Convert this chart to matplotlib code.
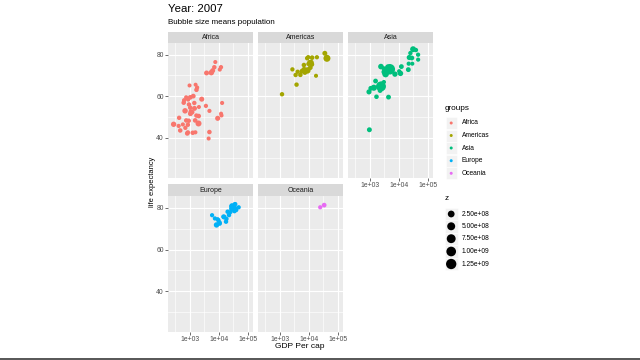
import numpy as np
import matplotlib
matplotlib.use("Agg")
import matplotlib.pyplot as plt
from matplotlib.patches import Rectangle

plt.rcParams['font.family'] = ['Liberation Sans', 'DejaVu Sans']

# ---- data: gapminder 2007 (gdpPercap, lifeExp, pop) ----
africa_gdp = [6223.367, 4797.231, 1441.285, 12569.85, 1217.033, 430.0707, 2042.095, 706.0165, 1704.064, 986.1479,
              277.5519, 3632.558, 1544.750, 2082.482, 5581.181, 12154.09, 641.3695, 690.8056, 13206.48, 752.7497,
              1327.609, 942.6542, 579.2317, 1463.249, 1569.331, 414.5073, 12057.50, 1044.770, 759.3499, 1042.582,
              1803.151, 10956.99, 3820.175, 823.6856, 4811.060, 619.6769, 2013.977, 7670.123, 863.0885, 1598.435,
              1712.472, 862.5408, 926.1411, 9269.658, 2602.395, 4513.481, 1107.482, 882.9699, 7092.923, 1056.380,
              1271.212, 469.7093]
africa_life = [72.301, 42.731, 56.728, 50.728, 52.295, 49.580, 50.430, 44.741, 50.651, 65.152,
               46.462, 55.322, 48.328, 54.791, 71.338, 51.579, 58.040, 52.947, 56.735, 59.448,
               60.022, 56.007, 46.388, 54.110, 42.592, 45.678, 73.952, 59.443, 48.303, 54.467,
               64.164, 72.801, 71.164, 42.082, 52.906, 56.867, 46.859, 76.442, 46.242, 65.528,
               63.062, 42.568, 48.159, 49.339, 58.556, 39.613, 52.517, 58.420, 73.923, 51.542,
               42.384, 43.487]
africa_pop = [33333216, 12420476, 8078314, 1639131, 14326203, 8390505, 17696293, 4369038, 10238807, 710960,
              64606759, 3800610, 18013409, 496374, 80264543, 551201, 4906585, 76511887, 1454867, 1688359,
              22873338, 9947814, 1472041, 35610177, 2012649, 3193942, 6036914, 19167654, 13327079, 12031795,
              3270065, 1250882, 33757175, 19951656, 2055080, 12894865, 135031164, 798094, 8860588, 199579,
              12267493, 6144562, 9118773, 43997828, 42292929, 1133066, 38139640, 5701579, 10276158, 29170398,
              11746035, 12311143]

americas_gdp = [12779.38, 3822.137, 9065.801, 36319.24, 13171.64, 7006.580, 9645.061, 8948.103, 6025.375, 6873.262,
                5728.354, 5186.050, 1201.637, 3548.331, 7320.880, 11977.57, 2749.321, 9809.186, 4172.838, 7408.906,
                19328.71, 18008.51, 42951.65, 10611.46, 11415.81]
americas_life = [75.320, 65.554, 72.390, 80.653, 78.553, 72.889, 78.782, 78.273, 72.235, 74.994,
                 71.878, 70.259, 60.916, 70.198, 72.567, 76.195, 72.899, 75.537, 71.752, 71.421,
                 78.746, 69.819, 78.242, 76.384, 73.747]
americas_pop = [40301927, 9119152, 190010647, 33390141, 16284741, 44227550, 4133884, 11416987, 9319622, 13755680,
                6939688, 12572928, 8502814, 7483763, 2780132, 108700891, 5675356, 3242173, 6667147, 28674757,
                3942491, 1056608, 301139947, 3447496, 26084662]

asia_gdp = [974.5803, 29796.05, 1391.254, 1713.779, 4959.115, 39724.98, 2452.210, 3540.652, 11605.71, 4471.062,
            25523.28, 31656.07, 4519.461, 1593.065, 23348.14, 47306.99, 10461.06, 12451.66, 3095.772, 944.0,
            1091.360, 22316.19, 2605.948, 3190.481, 21654.83, 47143.18, 3970.095, 4184.548, 28718.28, 7458.396,
            2441.577, 3025.350, 2280.770]
asia_life = [43.828, 75.635, 64.062, 59.723, 72.961, 82.208, 64.698, 70.650, 70.964, 59.545,
             80.745, 82.603, 72.535, 67.297, 78.623, 77.588, 71.993, 74.241, 66.803, 62.069,
             63.785, 75.640, 65.483, 71.688, 72.777, 79.972, 72.396, 74.143, 78.400, 70.616,
             74.249, 73.422, 62.698]
asia_pop = [31889923, 708573, 150448339, 14131858, 1318683096, 6980412, 1110396331, 223547000, 69453570, 27499638,
            6426679, 127467972, 6053193, 23301725, 49044790, 2505559, 3921278, 24821286, 2874127, 47761980,
            28901790, 3204897, 169270617, 91077287, 27601038, 4553009, 20378239, 19314747, 23174294, 65068149,
            85262356, 4018332, 22211743]

europe_gdp = [5937.030, 36126.49, 33692.61, 7446.299, 10680.79, 14619.22, 22833.31, 35278.42, 33207.08, 30470.02,
              32170.37, 27538.41, 18008.94, 36180.79, 40676.00, 28569.72, 9253.896, 36797.93, 49357.19, 15389.92,
              20509.65, 10808.48, 9786.535, 18678.31, 25768.26, 28821.06, 33859.75, 37506.42, 8458.276, 33203.26]
europe_life = [76.423, 79.829, 79.441, 74.852, 73.005, 75.748, 76.486, 78.332, 79.313, 80.657,
               79.406, 79.483, 73.338, 81.757, 78.885, 80.546, 74.543, 79.762, 80.196, 75.563,
               78.098, 72.476, 74.002, 74.663, 77.926, 80.941, 80.884, 81.701, 71.777, 79.425]
europe_pop = [3600523, 8199783, 10392226, 4552198, 7322858, 4493312, 10228744, 5468120, 5238460, 61083916,
              82400996, 10706290, 9956108, 301931, 4109086, 58147733, 684736, 16570613, 4627926, 38518241,
              10642836, 22276056, 10150265, 5447502, 2009245, 40448191, 9031088, 7554661, 71158647, 60776238]

oceania_gdp = [34435.37, 25185.01]
oceania_life = [81.235, 80.204]
oceania_pop = [20434176, 4115771]

continents = ["Africa", "Americas", "Asia", "Europe", "Oceania"]
colors = ["#F8766D", "#A3A500", "#00BF7D", "#00B0F6", "#E76BF3"]
size_breaks = [2.5e8, 5.0e8, 7.5e8, 1.0e9, 1.25e9]
size_labels = ["2.50e+08", "5.00e+08", "7.50e+08", "1.00e+09", "1.25e+09"]
x_ticks = [1e3, 1e4, 1e5]
x_labels = ["1e+03", "1e+04", "1e+05"]
y_ticks = [40, 60, 80]

data = {
    "Africa": (africa_gdp, africa_life, africa_pop),
    "Americas": (americas_gdp, americas_life, americas_pop),
    "Asia": (asia_gdp, asia_life, asia_pop),
    "Europe": (europe_gdp, europe_life, europe_pop),
    "Oceania": (oceania_gdp, oceania_life, oceania_pop),
}

POP_MAX = 1318683096.0


def msize(pop):
    d_px = 3.9 + 6.6 * np.sqrt(np.asarray(pop, dtype=float) / POP_MAX)
    return (d_px * 0.72) ** 2


W, H = 640, 360
fig = plt.figure(figsize=(6.4, 3.6), dpi=100)
fig.patch.set_facecolor("white")


def rect(x0, y0, x1, y1):
    return [x0 / W, 1 - y1 / H, (x1 - x0) / W, (y1 - y0) / H]


cols = [(168, 253), (258, 343), (348, 433)]
rows = [((32, 43), (43, 178)), ((184, 196), (196, 332))]
xlim = (10 ** 2.249, 10 ** 5.189)
ylim = (20.6, 85.6)

for i, cont in enumerate(continents):
    r, c = divmod(i, 3)
    (sy0, sy1), (py0, py1) = rows[r]
    cx0, cx1 = cols[c]
    # strip
    sax = fig.add_axes(rect(cx0, sy0, cx1, sy1))
    sax.set_facecolor("#D9D9D9")
    sax.set_xticks([]); sax.set_yticks([])
    for s in sax.spines.values():
        s.set_visible(False)
    sax.text(0.5, 0.5, cont, ha="center", va="center", fontsize=5.0, color="#1A1A1A",
             transform=sax.transAxes)
    # panel
    ax = fig.add_axes(rect(cx0, py0, cx1, py1))
    ax.set_facecolor("#EBEBEB")
    ax.set_xscale("log")
    ax.set_xlim(*xlim); ax.set_ylim(*ylim)
    for s in ax.spines.values():
        s.set_visible(False)
    for v in [30, 50, 70]:
        ax.axhline(v, color="white", lw=0.45, zorder=0)
    for v in y_ticks:
        ax.axhline(v, color="white", lw=0.85, zorder=0)
    for v in [10 ** 2.5, 10 ** 3.5, 10 ** 4.5]:
        ax.axvline(v, color="white", lw=0.45, zorder=0)
    for v in x_ticks:
        ax.axvline(v, color="white", lw=0.85, zorder=0)
    gdp, life, pop = data[cont]
    ax.scatter(gdp, life, s=msize(pop), color=colors[i], edgecolors="none", zorder=3)
    ax.minorticks_off()
    ax.set_xticks(x_ticks)
    ax.set_yticks(y_ticks)
    ax.tick_params(length=2, width=0.5, color="#333333", labelsize=4.9, labelcolor="#4D4D4D", pad=1)
    if c == 0:
        ax.set_yticklabels([str(v) for v in y_ticks])
    else:
        ax.tick_params(axis="y", length=0, labelleft=False)
    if r == 1 or cont == "Asia":
        ax.set_xticklabels(x_labels)
    else:
        ax.tick_params(axis="x", length=0, labelbottom=False)

# titles
fig.text(168 / W, 1 - 9 / H, "Year: 2007", fontsize=8.2, color="black", ha="left", va="center")
fig.text(168 / W, 1 - 22.5 / H, "Bubble size means population", fontsize=5.8, color="black", ha="left", va="center")
fig.text(300 / W, 1 - 347 / H, "GDP Per cap", fontsize=6.0, color="black", ha="center", va="center")
fig.text(152 / W, 1 - 182 / H, "life expectancy", fontsize=5.4, color="black", ha="center", va="center",
         rotation=90)

# legends drawn in a pixel-coordinate overlay axes
lax = fig.add_axes([0, 0, 1, 1])
lax.set_xlim(0, W); lax.set_ylim(H, 0)
lax.axis("off")
lax.patch.set_alpha(0)

lax.text(445, 109, "groups", fontsize=5.9, ha="left", va="center", color="black")
grp_y = [123, 135.5, 148, 160.7, 173.3]
for cont, col, yy in zip(continents, colors, grp_y):
    lax.add_patch(Rectangle((445.5, yy - 6), 11.5, 12, facecolor="#F2F2F2", edgecolor="white", lw=0.4))
    lax.scatter([451.2], [yy], s=(3.0 * 0.72) ** 2, color=col, edgecolors="none")
    lax.text(461.5, yy, cont, fontsize=4.8, ha="left", va="center", color="black")

lax.text(445, 199, "z", fontsize=5.9, ha="left", va="center", color="black")
sz_y = [214, 226.3, 238.7, 251.5, 264]
for b, lab, yy in zip(size_breaks, size_labels, sz_y):
    lax.add_patch(Rectangle((445, yy - 6.2), 12.5, 12.4, facecolor="#F2F2F2", edgecolor="white", lw=0.4))
    lax.scatter([451.2], [yy], s=msize([b]), color="black", edgecolors="none")
    lax.text(461.5, yy, lab, fontsize=4.8, ha="left", va="center", color="black")

# dark frame strip at the very bottom
lax.add_patch(Rectangle((0, 357.5), W, 3, facecolor="#5A5A5A", edgecolor="none", clip_on=False))

fig.savefig("out.png", dpi=100)
